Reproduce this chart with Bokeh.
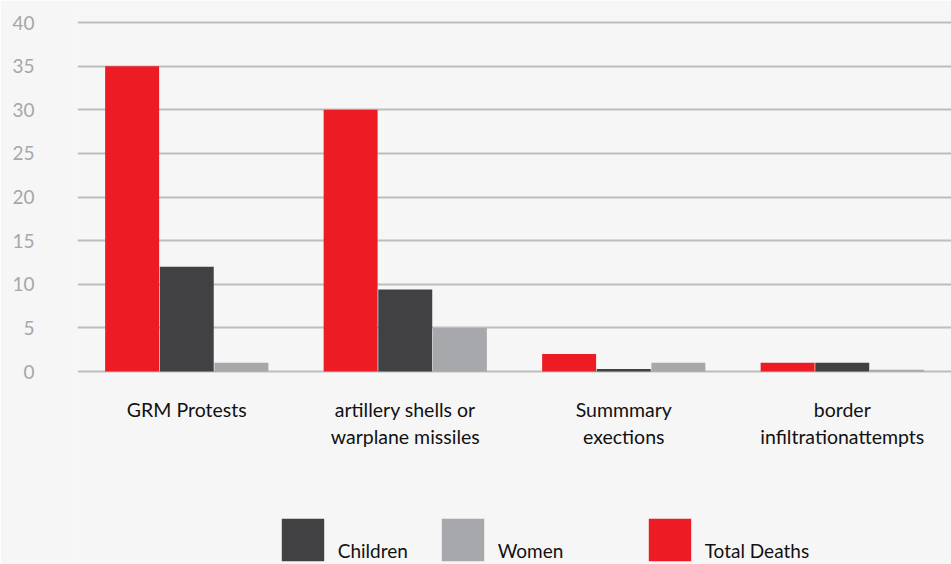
from bokeh.plotting import figure
from bokeh.models import ColumnDataSource, Range1d, FactorRange, Legend, LegendItem, FixedTicker
from bokeh.transform import dodge
from bokeh.embed import file_html
from bokeh.resources import INLINE

categories = ["GRM Protests", "artillery shells or\nwarplane missiles", "Summmary\nexections", "border\ninfiltrationattempts"]
total_deaths = [35, 30, 2, 1]
children = [12, 9.4, 0.3, 1]
women = [1, 5, 1, 0.2]
y_ticks = [0, 5, 10, 15, 20, 25, 30, 35, 40]

BG = "#f6f6f6"
RED = "#ed1c24"
DARK = "#414143"
LIGHT = "#a7a8ab"
FONT = "Lato"

src = ColumnDataSource(dict(cat=categories, total=total_deaths, children=children, women=women))

p = figure(width=951, height=564, x_range=FactorRange(*categories, range_padding=0),
           y_range=Range1d(-22.12, 41.49), output_backend="svg", toolbar_location=None,
           min_border_left=77, min_border_right=0, min_border_top=9, min_border_bottom=0)
p.background_fill_color = BG
p.border_fill_color = BG
p.outline_line_color = None

w = 0.247
r_total = p.vbar(x=dodge("cat", -0.25, range=p.x_range), top="total", bottom=0, width=w, source=src,
                 fill_color=RED, line_color=None)
r_child = p.vbar(x=dodge("cat", 0.0, range=p.x_range), top="children", bottom=0, width=w, source=src,
                 fill_color=DARK, line_color=None)
r_women = p.vbar(x=dodge("cat", 0.25, range=p.x_range), top="women", bottom=0, width=w, source=src,
                 fill_color=LIGHT, line_color=None)

p.xgrid.grid_line_color = None
p.ygrid.grid_line_color = "#bdbdbd"
p.ygrid.grid_line_width = 2
p.yaxis.ticker = FixedTicker(ticks=y_ticks)

p.yaxis.axis_line_color = None
p.yaxis.major_tick_line_color = None
p.yaxis.minor_tick_line_color = None
p.yaxis.major_label_text_color = "#a7a7a7"
p.yaxis.major_label_text_font = FONT
p.yaxis.major_label_text_font_size = "19px"
p.yaxis.major_label_standoff = 37

p.xaxis.fixed_location = 0
p.xaxis.axis_line_color = None
p.xaxis.major_tick_line_color = None
p.xaxis.minor_tick_line_color = None
p.xaxis.major_label_text_color = "#111111"
p.xaxis.major_label_text_font = FONT
p.xaxis.major_label_text_font_size = "19.5px"
p.xaxis.major_label_standoff = 20

def add_legend(label, r, x, lh):
    lg = Legend(items=[LegendItem(label="\n" + label, renderers=[r])], location=(x, -1.5),
                orientation="horizontal", glyph_width=53, glyph_height=53,
                padding=0, margin=0, label_standoff=9, border_line_color=None,
                background_fill_alpha=0, label_text_font=FONT, label_text_font_size="19px",
                label_text_color="#111111", label_text_line_height=lh)
    p.add_layout(lg, "center")

add_legend("Children", r_child, 198.7, 0.45)
add_legend("Women", r_women, 358.7, 1.0)
add_legend("Total Deaths", r_total, 565.7, 0.4)

open("out.html", "w").write(file_html(p, INLINE))
